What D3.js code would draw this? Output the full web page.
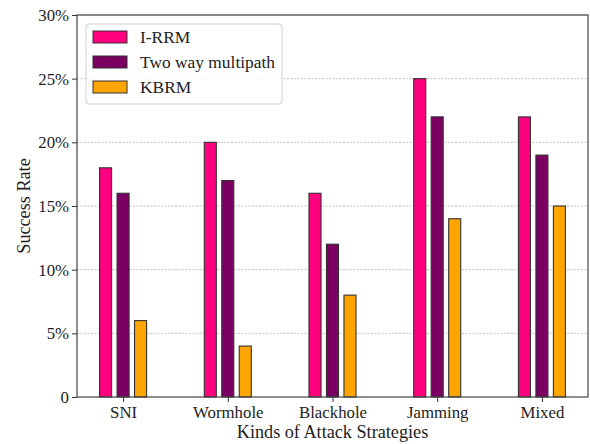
<!DOCTYPE html>
<html>
<head>
<meta charset="utf-8">
<script src="https://cdn.jsdelivr.net/npm/d3@7/dist/d3.min.js"></script>
<style>
  html, body { margin: 0; padding: 0; background: #fff; }
  svg text { font-family: "Liberation Serif", "Times New Roman", Times, "DejaVu Serif", serif; }
</style>
</head>
<body>
<svg id="chart" width="590" height="444"></svg>
<script>
// Attack strategies and success rates (%) per routing method
const categories = ["SNI", "Wormhole", "Blackhole", "Jamming", "Mixed"];
const seriesNames = ["I-RRM", "Two way multipath", "KBRM"];
const irrm = [18, 20, 16, 25, 22];
const twoWay = [16, 17, 12, 22, 19];
const kbrm = [6, 4, 8, 14, 15];
const yTicks = [0, 5, 10, 15, 20, 25, 30];
const colors = ["#ff0080", "#7a0062", "#ffa500"];

const series = [irrm, twoWay, kbrm];
const FONT = "'Liberation Serif', 'Times New Roman', Times, 'DejaVu Serif', serif";

const svg = d3.select("#chart");
const margin = { left: 77, right: 2, top: 15, bottom: 47 };
const W = 590, H = 444;

const x = d3.scaleLinear()
  .domain([-0.44, categories.length - 1 + 0.44])
  .range([margin.left, W - margin.right]);
const y = d3.scaleLinear()
  .domain([0, 30])
  .range([H - margin.bottom, margin.top]);

const unit = x(1) - x(0);
const barW = unit * 0.115;
const offset = unit * 0.167;

// Dashed horizontal grid
svg.append("g")
  .selectAll("line")
  .data(yTicks.filter(t => t > 0))
  .join("line")
  .attr("x1", x.range()[0]).attr("x2", x.range()[1])
  .attr("y1", d => y(d)).attr("y2", d => y(d))
  .attr("stroke", "#b0b0b0")
  .attr("stroke-width", 0.8)
  .attr("stroke-dasharray", "2,1.5");

// Bars
series.forEach((vals, si) => {
  svg.append("g")
    .selectAll("rect")
    .data(vals)
    .join("rect")
    .attr("x", (d, i) => x(i) + (si - 1) * offset - barW / 2)
    .attr("y", d => y(d))
    .attr("width", barW)
    .attr("height", d => y(0) - y(d))
    .attr("fill", colors[si])
    .attr("stroke", "#333")
    .attr("stroke-width", 1.1);
});

// Axes
const xAxis = d3.axisBottom(x)
  .tickValues(d3.range(categories.length))
  .tickFormat(i => categories[i])
  .tickSizeOuter(0)
  .tickSize(5)
  .tickPadding(4);
const yAxis = d3.axisLeft(y)
  .tickValues(yTicks)
  .tickFormat(d => d === 0 ? "0" : d + "%")
  .tickSizeOuter(0)
  .tickSize(5)
  .tickPadding(3);

const gx = svg.append("g").attr("transform", `translate(0,${y(0)})`).call(xAxis);
const gy = svg.append("g").attr("transform", `translate(${x.range()[0]},0)`).call(yAxis);
[gx, gy].forEach(g => {
  g.attr("font-family", FONT).attr("font-size", 16.8);
  g.select(".domain").remove();
  g.selectAll(".tick line").attr("stroke", "#333").attr("stroke-width", 1);
  g.selectAll("text").attr("fill", "#222");
});

// Plot frame
svg.append("rect")
  .attr("x", x.range()[0]).attr("y", y.range()[1])
  .attr("width", x.range()[1] - x.range()[0])
  .attr("height", y.range()[0] - y.range()[1])
  .attr("fill", "none")
  .attr("stroke", "#444")
  .attr("stroke-width", 1.2);

// Axis titles
svg.append("text")
  .attr("x", (x.range()[0] + x.range()[1]) / 2)
  .attr("y", 438)
  .attr("text-anchor", "middle")
  .attr("fill", "#222")
  .attr("font-size", 18.2)
  .text("Kinds of Attack Strategies");
svg.append("text")
  .attr("transform", `translate(30,${(y.range()[0] + y.range()[1]) / 2}) rotate(-90)`)
  .attr("text-anchor", "middle")
  .attr("fill", "#222")
  .attr("font-size", 18.2)
  .text("Success Rate");

// Legend
const lg = svg.append("g").attr("transform", "translate(86,24)");
lg.append("rect")
  .attr("width", 196).attr("height", 80)
  .attr("rx", 3)
  .attr("fill", "#fff")
  .attr("fill-opacity", 0.85)
  .attr("stroke", "#d0d0d0");
seriesNames.forEach((name, i) => {
  const row = lg.append("g").attr("transform", `translate(0,${13 + i * 25})`);
  row.append("rect")
    .attr("x", 7).attr("y", -6)
    .attr("width", 34).attr("height", 12)
    .attr("fill", colors[i])
    .attr("stroke", "#333")
    .attr("stroke-width", 1);
  row.append("text")
    .attr("x", 54).attr("y", 6)
    .attr("fill", "#222")
    .attr("font-size", 17.4)
    .text(name);
});
</script>
</body>
</html>
